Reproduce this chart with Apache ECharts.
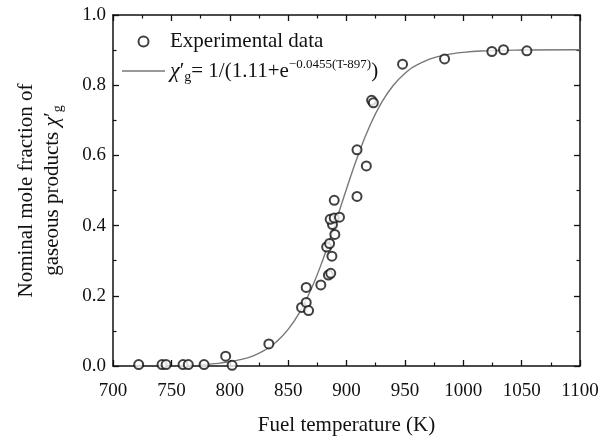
<!DOCTYPE html>
<html>
<head>
<meta charset="utf-8">
<script src="https://cdn.jsdelivr.net/npm/echarts@6/dist/echarts.min.js"></script>
<style>
  html, body { margin: 0; padding: 0; background: #fff; }
  #chart { width: 609px; height: 441px; }
</style>
</head>
<body>
<div id="chart"></div>
<script>
// measured points (fuel temperature K, nominal mole fraction)
const expT = [722, 742, 745.5, 760, 764.5, 778, 796.5, 802, 833.5, 861.5, 865.5, 865.5, 867.5, 878,
  884.5, 886.5, 887.5, 883, 885.5, 890, 888, 886, 889.5, 894, 889.5, 909, 909, 917, 921.5, 923,
  948, 984, 1024.5, 1034.5, 1054.5];
const expY = [0.004, 0.004, 0.004, 0.004, 0.004, 0.004, 0.028, 0.002, 0.063, 0.167, 0.181, 0.224, 0.158, 0.231,
  0.259, 0.264, 0.313, 0.339, 0.349, 0.375, 0.403, 0.418, 0.422, 0.424, 0.472, 0.483, 0.616, 0.570, 0.757, 0.750,
  0.860, 0.875, 0.896, 0.901, 0.898];

// fitted curve
const fitT = [775, 790, 800, 810, 820, 830, 840, 850, 860, 870, 880, 890, 900, 910, 920, 930, 940, 950, 960, 980, 1000, 1020, 1050, 1100];
const fitY = [0.0039, 0.0076, 0.0120, 0.0187, 0.0291, 0.0451, 0.0690, 0.1042, 0.1540, 0.2209, 0.3051, 0.4024,
  0.5044, 0.6011, 0.6844, 0.7503, 0.7991, 0.8335, 0.8570, 0.8827, 0.8935, 0.8979, 0.9001, 0.9009];

const xTicks = { min: 700, max: 1100, interval: 50 };
const yTicks = { min: 0, max: 1, interval: 0.2 };

const font = '"Liberation Serif", "Times New Roman", serif';
const ink = '#111';
const titleSize = 21;
const tickSize = 19;

const chart = echarts.init(document.getElementById('chart'));

const frameAxis = {
  axisLine: { show: true, onZero: false, lineStyle: { color: ink, width: 1.5 } },
  axisTick: { show: true, inside: true, length: 6, lineStyle: { color: ink, width: 1.3 } },
  minorTick: { show: true, splitNumber: 2, length: 3.5, lineStyle: { color: ink, width: 1.2 } },
  splitLine: { show: false }
};

const richText = {
  n: { fontSize: titleSize, fontFamily: font, color: ink, lineHeight: 26, verticalAlign: 'middle' },
  chi: { fontSize: titleSize + 1, fontFamily: font, fontStyle: 'italic', color: ink, lineHeight: 26, verticalAlign: 'middle' },
  sub: { fontSize: 14, fontFamily: font, color: ink, lineHeight: 26, verticalAlign: 'bottom' },
  sup: { fontSize: 13, fontFamily: font, color: ink, lineHeight: 26, verticalAlign: 'top' }
};

chart.setOption({
  animation: false,
  textStyle: { fontFamily: font },
  grid: { left: 113, right: 29, top: 15, bottom: 74 },
  legend: {
    orient: 'vertical',
    left: 122,
    top: 31,
    padding: 0,
    itemWidth: 43,
    itemHeight: 10,
    itemGap: 6,
    textStyle: { fontFamily: font, fontSize: titleSize, color: ink, rich: richText },
    data: [
      { name: 'Experimental data', icon: 'emptyCircle' },
      { name: 'fit', icon: 'path://M0,0 L43,0 L43,1.4 L0,1.4 Z' }
    ],
    formatter: function (name) {
      if (name === 'fit') {
        return '{chi|χ}{n|′}{sub|g}{n|= 1/(1.11+e}{sup|−0.0455(T-897)}{n|)}';
      }
      return name;
    }
  },
  xAxis: [
    Object.assign({
      type: 'value',
      position: 'bottom',
      min: xTicks.min, max: xTicks.max, interval: xTicks.interval,
      name: 'Fuel temperature (K)',
      nameLocation: 'middle',
      nameGap: 49,
      nameTextStyle: { fontFamily: font, fontSize: titleSize, color: ink },
      axisLabel: { fontFamily: font, fontSize: tickSize, color: ink, margin: 16, formatter: v => String(v) }
    }, frameAxis),
    Object.assign({
      type: 'value',
      position: 'top',
      min: xTicks.min, max: xTicks.max, interval: xTicks.interval,
      axisLabel: { show: false }
    }, frameAxis)
  ],
  yAxis: [
    Object.assign({
      type: 'value',
      position: 'left',
      min: yTicks.min, max: yTicks.max, interval: yTicks.interval,
      name: '{n|Nominal mole fraction of}\n{n|gaseous products }{chi|χ}{n|′}{sub|g}',
      nameLocation: 'middle',
      nameRotate: 90,
      nameGap: 48,
      nameTextStyle: { fontFamily: font, fontSize: titleSize, color: ink, rich: richText },
      axisLabel: {
        fontFamily: font, fontSize: tickSize, color: ink, margin: 7,
        formatter: v => v.toFixed(1)
      }
    }, frameAxis),
    Object.assign({
      type: 'value',
      position: 'right',
      min: yTicks.min, max: yTicks.max, interval: yTicks.interval,
      axisLabel: { show: false }
    }, frameAxis)
  ],
  series: [
    {
      name: 'Experimental data',
      type: 'scatter',
      data: expT.map((t, i) => [t, expY[i]]),
      symbol: 'emptyCircle',
      symbolSize: 9,
      clip: true,
      itemStyle: { color: ink, borderColor: ink, borderWidth: 1.4 },
      z: 3
    },
    {
      name: 'fit',
      type: 'line',
      data: fitT.map((t, i) => [t, fitY[i]]),
      smooth: true,
      symbol: 'none',
      itemStyle: { color: '#777' },
      lineStyle: { color: '#777', width: 1.4 },
      z: 2
    }
  ]
});
</script>
</body>
</html>
